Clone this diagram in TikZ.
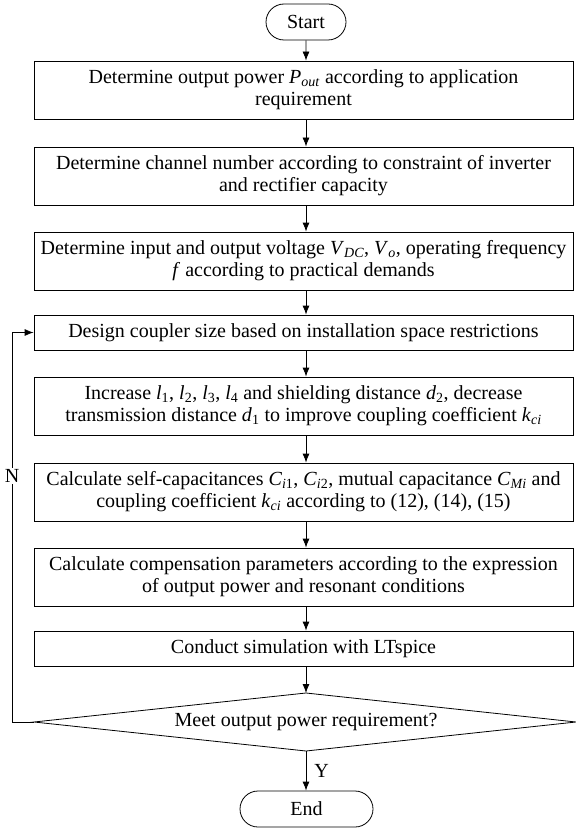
\documentclass[tikz,border=0pt]{standalone}
\usepackage{fontspec}
\setmainfont{Liberation Serif}
\usetikzlibrary{shapes.misc,arrows.meta}
\newcommand\vsub[2]{\textit{#1}\textsubscript{#2}}
\newcommand\visub[2]{\textit{#1}\textsubscript{\textit{#2}}}
\begin{document}
\begin{tikzpicture}[x=1pt,y=-1pt,
  every node/.style={font=\fontsize{20pt}{22pt}\selectfont},
  procbox/.style={draw,line width=0.8pt,minimum width=539pt,align=center,inner sep=0pt},
  twoline/.style={procbox,minimum height=58pt},
  oneline/.style={procbox,minimum height=35pt},
  term/.style={draw,line width=0.8pt,rounded rectangle,minimum width=80pt,minimum height=36pt,inner sep=0pt},
  arr/.style={line width=0.8pt,-{Latex[length=9pt,width=7pt]}},
  ln/.style={line width=0.8pt}]
\useasboundingbox (0,0) rectangle (575,829);
\node[term] (start) at (306,22) {Start};
\node[twoline] (b1) at (303.5,90) {Determine output power \visub{P}{out} according to application\\requirement};
\node[twoline] (b2) at (303.5,176) {Determine channel number according to constraint of inverter\\and rectifier capacity};
\node[twoline] (b3) at (303.5,261) {Determine input and output voltage \visub{V}{DC}, \visub{V}{o}, operating frequency\\\textit{f} according to practical demands};
\node[oneline] (b4) at (303.5,332.5) {Design coupler size based on installation space restrictions};
\node[twoline] (b5) at (303.5,406) {Increase \vsub{l}{1}, \vsub{l}{2}, \vsub{l}{3}, \vsub{l}{4} and shielding distance \vsub{d}{2}, decrease\\transmission distance \vsub{d}{1} to improve coupling coefficient \visub{k}{ci}};
\node[twoline] (b6) at (303.5,492) {Calculate self-capacitances \textit{C}\textsubscript{\textit{i}1}, \textit{C}\textsubscript{\textit{i}2}, mutual capacitance \visub{C}{Mi} and\\coupling coefficient \visub{k}{ci} according to (12), (14), (15)};
\node[twoline] (b7) at (303.5,577) {Calculate compensation parameters according to the expression\\of output power and resonant conditions};
\node[oneline] (b8) at (303.5,648.5) {Conduct simulation with LTspice};
\coordinate (dt) at (306,693);
\coordinate (dl) at (34,722);
\coordinate (dr) at (576,722);
\coordinate (db) at (306,751);
\draw[ln] (dl) -- (dt) -- (dr) -- (db) -- cycle;
\node (dec) at (306,722) {Meet output power requirement?};
\node[term,minimum width=133pt] (end) at (306.5,809) {End};
\draw[arr] (start) -- (start |- b1.north);
\draw[arr] (start |- b1.south) -- (start |- b2.north);
\draw[arr] (start |- b2.south) -- (start |- b3.north);
\draw[arr] (start |- b3.south) -- (start |- b4.north);
\draw[arr] (start |- b4.south) -- (start |- b5.north);
\draw[arr] (start |- b5.south) -- (start |- b6.north);
\draw[arr] (start |- b6.south) -- (start |- b7.north);
\draw[arr] (start |- b7.south) -- (start |- b8.north);
\draw[arr] (start |- b8.south) -- (dt);
\draw[arr] (db) -- (db |- end.north);
\node (ylab) at (321.5,771) {Y};
\coordinate (lp) at (12,722);
\draw[arr] (dl) -- (lp) -- (lp |- b4.west) -- (b4.west);
\node[fill=white,inner sep=1pt] (nlab) at (12,476) {N};
\end{tikzpicture}
\end{document}
